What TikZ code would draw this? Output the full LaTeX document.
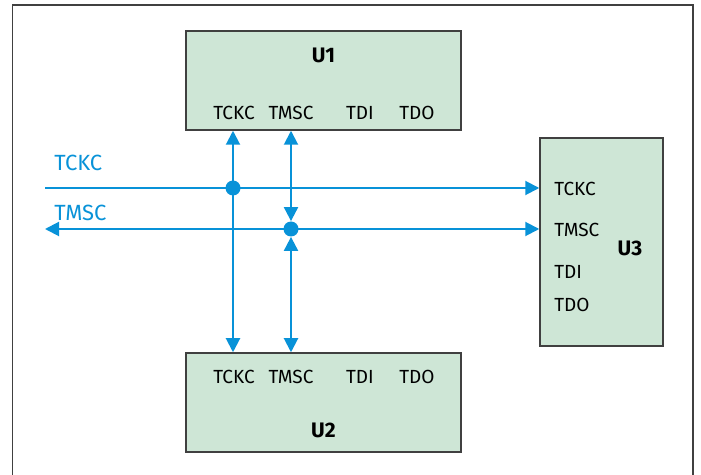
\documentclass[tikz,border=0pt]{standalone}
\usepackage{fontspec}
\setmainfont{Fira Sans}
\usetikzlibrary{arrows.meta}
\definecolor{busblue}{RGB}{8,146,216}
\definecolor{chipgreen}{RGB}{206,230,214}
\definecolor{framegray}{RGB}{64,64,64}

\begin{document}
\begin{tikzpicture}[x=0.5pt,y=-0.5pt,font=\fontsize{9.5}{11}\selectfont]
% Styles
\tikzset{
    chip/.style={draw=framegray,fill=chipgreen,line width=0.75pt,inner sep=0pt},
    pin/.style={inner sep=0pt},
    buslabel/.style={inner sep=0pt,text=busblue,anchor=west,font=\fontsize{11}{13}\selectfont},
    chipname/.style={inner sep=0pt,font=\fontsize{10.5}{12}\selectfont\bfseries},
    bus/.style={draw=busblue,line width=1pt,
        arrows={-Triangle[length=7pt,width=7pt]}},
    busboth/.style={bus,arrows={Triangle[length=7pt,width=7pt]-Triangle[length=7pt,width=7pt]}},
    joint/.style={circle,fill=busblue,inner sep=0pt,minimum size=7.5pt}
}
\useasboundingbox (0,0) rectangle (701,475);
% Frame
\draw[framegray,line width=0.75pt] (12.5,485) -- (12.5,5) -- (693,5) -- (693,485);
% Chips
\node[chip,minimum width=137.5pt,minimum height=49.5pt] (U1) at (323.5,80.5){};
\node[chip,minimum width=137.5pt,minimum height=49.5pt] (U2) at (323.5,402.5){};
\node[chip,minimum width=61.5pt,minimum height=104pt] (U3) at (601.5,242){};
\node[chipname] (U1name) at (323.5,55){U1};
\node[chipname] (U2name) at (323.5,430){U2};
\node[chipname] (U3name) at (630,248){U3};
% Pins
\node[pin] (U1tckc) at (234,113){TCKC};
\node[pin] (U1tmsc) at (291,113){TMSC};
\node[pin] (U1tdi) at (360,113){TDI};
\node[pin] (U1tdo) at (417,113){TDO};
\node[pin] (U2tckc) at (234,377){TCKC};
\node[pin] (U2tmsc) at (291,377){TMSC};
\node[pin] (U2tdi) at (360,377){TDI};
\node[pin] (U2tdo) at (417,377){TDO};
\node[pin,anchor=west] (U3tckc) at (554,189){TCKC};
\node[pin,anchor=west] (U3tmsc) at (554,230){TMSC};
\node[pin,anchor=west] (U3tdi) at (554,272){TDI};
\node[pin,anchor=west] (U3tdo) at (554,305){TDO};
% Joints
\node[joint] (Ja) at (233,188){};
\node[joint] (Jb) at (291,229){};
\coordinate (TCKCin) at (45,188);
\coordinate (TMSCout) at (45,229);
\node[buslabel] (TCKClabel) at (54,163){TCKC};
\node[buslabel] (TMSClabel) at (54,213){TMSC};
% Connection
\draw[bus] (TCKCin) -- (U3.west |- Ja);
\draw[busboth] (U1.south -| Ja) -- (U2.north -| Ja);
\draw[busboth] (TMSCout) -- (U3.west |- Jb);
\draw[busboth] (U1.south -| Jb) -- (Jb.north);
\draw[busboth] (Jb.south) -- (U2.north -| Jb);
\end{tikzpicture}
\end{document}
